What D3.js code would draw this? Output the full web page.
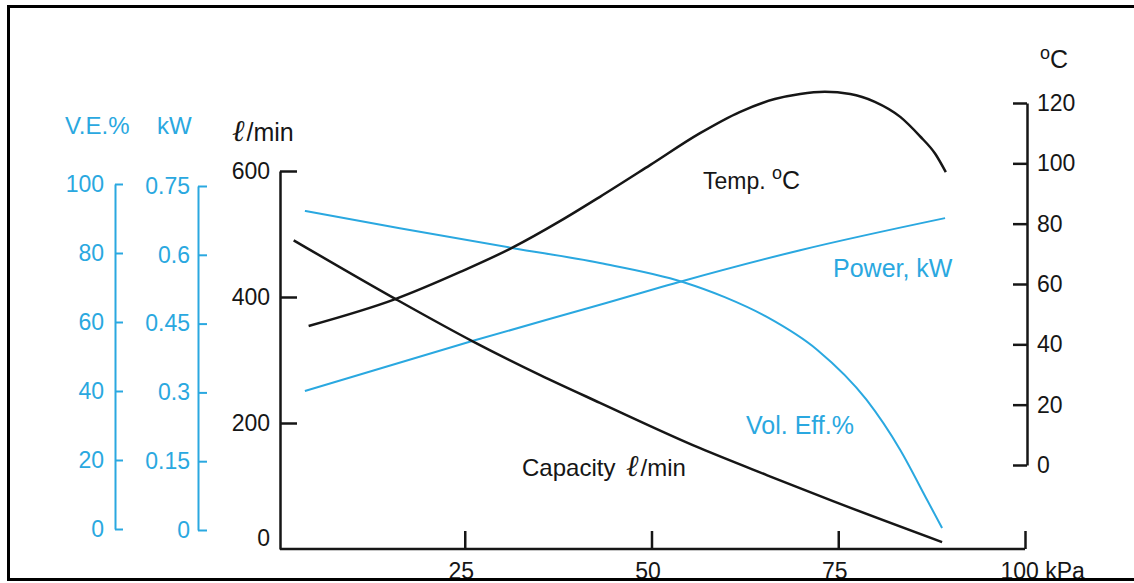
<!DOCTYPE html>
<html>
<head>
<meta charset="utf-8">
<script src="https://cdn.jsdelivr.net/npm/d3@7"></script>
<style>
  html, body { margin: 0; padding: 0; background: #fff; }
  svg { display: block; }
  text { font-family: "Liberation Sans", Arial, sans-serif; }
</style>
</head>
<body>
<svg id="chart" width="1134" height="583"></svg>
<script>
// ---- Data ----
const xTicks = [25, 50, 75, 100];
const capacityTicks = [0, 200, 400, 600];
const veTicks = [0, 20, 40, 60, 80, 100];
const kwTicks = [0, 0.15, 0.3, 0.45, 0.6, 0.75];
const kwTickLabels = ["0", "0.15", "0.3", "0.45", "0.6", "0.75"];
const tempTicks = [0, 20, 40, 60, 80, 100, 120];

// x = pressure (kPa)
const capacityKPa = [2.1, 15.7, 26.0, 35.1, 43.1, 56.5, 65.5, 74.3, 88.9];
const capacityLmin = [490, 397, 330, 276, 232, 160, 117, 76, 11];

const tempKPa = [4.1, 15.7, 24.4, 31.5, 37.8, 43.1, 49.8, 56.5, 61.8, 66.5, 69.9, 73.2, 76.6, 79.9, 83.3, 85.9, 88.0, 89.4];
const tempC =   [46.1, 55.0, 64.0, 72.2, 80.9, 88.9, 99.4, 110.0, 117.0, 121.3, 123.0, 123.7, 123.0, 120.4, 115.4, 109.1, 103.1, 97.1];

const volEffKPa = [3.6, 16.3, 31.5, 43.1, 54.2, 59.8, 65.5, 72.2, 78.8, 83.3, 86.9, 88.9];
const volEffPct = [92.2, 87.2, 81.4, 77.1, 71.6, 67.2, 61.4, 51.9, 37.4, 22.9, 8.4, 0.3];

const powerKPa = [3.6, 26.0, 43.1, 54.2, 69.9, 89.3];
const powerKW =  [0.303, 0.412, 0.491, 0.543, 0.610, 0.680];

// ---- Styles ----
const BLUE = "#2aa8e0";
const BLACK = "#161616";

const svg = d3.select("#chart");

// ---- Scales ----
const x = d3.scaleLinear().domain([0, 100]).range([278, 1025]);
const yCap = d3.scaleLinear().domain([0, 600]).range([549, 171]);
const yVE = d3.scaleLinear().domain([0, 100]).range([529, 184]);
const yKW = d3.scaleLinear().domain([0, 0.75]).range([530, 186]);
const yT = d3.scaleLinear().domain([0, 120]).range([465, 103]);

function styleAxis(g, color, fontSize, width) {
  g.select(".domain").attr("stroke", color).attr("stroke-width", width);
  g.selectAll(".tick line").attr("stroke", color).attr("stroke-width", width);
  g.selectAll(".tick text").attr("fill", color).attr("font-size", fontSize)
    .attr("font-family", "'Liberation Sans', Arial, sans-serif");
}

// V.E.% axis
const gVE = svg.append("g").attr("transform", "translate(115,0)")
  .call(d3.axisLeft(yVE).tickValues(veTicks).tickSizeInner(-8).tickSizeOuter(0).tickPadding(11));
styleAxis(gVE, BLUE, 23, 2);

// kW axis
const gKW = svg.append("g").attr("transform", "translate(198,0)")
  .call(d3.axisLeft(yKW).tickValues(kwTicks).tickFormat((d, i) => kwTickLabels[i])
    .tickSizeInner(-9).tickSizeOuter(0).tickPadding(8));
styleAxis(gKW, BLUE, 23, 2);

// Capacity axis (left, black)
const gCap = svg.append("g").attr("transform", "translate(280,0)")
  .call(d3.axisLeft(yCap).tickValues(capacityTicks).tickSizeInner(-17).tickSizeOuter(0).tickPadding(10));
styleAxis(gCap, BLACK, 23, 2.5);
gCap.selectAll(".tick").filter(d => d === 0).select("line").remove();
gCap.selectAll(".tick").filter(d => d === 0).select("text").attr("dy", "-0.15em");

// Temperature axis (right)
const gT = svg.append("g").attr("transform", "translate(1027,0)")
  .call(d3.axisRight(yT).tickValues(tempTicks).tickSizeInner(-14).tickSizeOuter(0).tickPadding(10));
styleAxis(gT, BLACK, 23, 2.5);

// x axis (bottom)
const gX = svg.append("g").attr("transform", "translate(0,549)")
  .call(d3.axisBottom(x).tickValues(xTicks).tickFormat(d => d === 100 ? "100 kPa" : d)
    .tickSizeInner(-18).tickSizeOuter(0).tickPadding(14));
styleAxis(gX, BLACK, 23, 2.5);
gX.select(".domain").attr("d", `M${x(0) + 2},0H${x(100)}`);
gX.selectAll(".tick text").attr("dx", "-4");
gX.selectAll(".tick").filter(d => d === 100).select("text")
  .attr("text-anchor", "start").attr("dx", "-25");

// ---- Axis titles ----
svg.append("text").attr("x", 65).attr("y", 134).attr("fill", BLUE).attr("font-size", 24).text("V.E.%");
svg.append("text").attr("x", 157).attr("y", 134).attr("fill", BLUE).attr("font-size", 24).text("kW");
const tl = svg.append("text").attr("x", 232).attr("y", 141).attr("fill", BLACK).attr("font-size", 25);
tl.append("tspan").attr("font-family", "'DejaVu Serif', serif").attr("font-style", "italic").attr("font-size", 30).text("ℓ");
tl.append("tspan").attr("dx", 2).text("/min");
const tc = svg.append("text").attr("x", 1040).attr("y", 68).attr("fill", BLACK).attr("font-size", 25);
tc.append("tspan").attr("font-size", 18).attr("dy", -9).text("o");
tc.append("tspan").attr("dy", 9).text("C");

// ---- Curves ----
const line = (xs, ys, ysc) => d3.line().curve(d3.curveMonotoneX)
  .x((d, i) => x(xs[i])).y((d, i) => ysc(ys[i]))(xs);

svg.append("path").attr("d", line(powerKPa, powerKW, yKW))
  .attr("fill", "none").attr("stroke", BLUE).attr("stroke-width", 2);
svg.append("path").attr("d", line(volEffKPa, volEffPct, yVE))
  .attr("fill", "none").attr("stroke", BLUE).attr("stroke-width", 2);
svg.append("path").attr("d", line(capacityKPa, capacityLmin, yCap))
  .attr("fill", "none").attr("stroke", BLACK).attr("stroke-width", 2.5);
svg.append("path").attr("d", line(tempKPa, tempC, yT))
  .attr("fill", "none").attr("stroke", BLACK).attr("stroke-width", 2.5);

// ---- Curve labels ----
const tt = svg.append("text").attr("x", 703).attr("y", 189).attr("fill", BLACK).attr("font-size", 23);
tt.append("tspan").text("Temp. ");
tt.append("tspan").attr("font-size", 18).attr("dy", -10).text("o");
tt.append("tspan").attr("dy", 10).attr("font-size", 25).text("C");

svg.append("text").attr("x", 833).attr("y", 277).attr("fill", BLUE).attr("font-size", 25).text("Power, kW");
svg.append("text").attr("x", 746).attr("y", 434).attr("fill", BLUE).attr("font-size", 25).text("Vol. Eff.%");
const tcap = svg.append("text").attr("x", 522).attr("y", 476).attr("fill", BLACK).attr("font-size", 24);
tcap.append("tspan").text("Capacity ");
tcap.append("tspan").attr("dx", 4).attr("font-family", "'DejaVu Serif', serif").attr("font-style", "italic").attr("font-size", 30).text("ℓ");
tcap.append("tspan").attr("dx", 2).text("/min");

// ---- Frame ----
svg.append("rect").attr("x", 0).attr("y", 581).attr("width", 1134).attr("height", 2).attr("fill", "#fff");
svg.append("rect").attr("x", 8.5).attr("y", 6.5).attr("width", 1200).attr("height", 573)
  .attr("fill", "none").attr("stroke", "#000").attr("stroke-width", 3);
</script>
</body>
</html>
